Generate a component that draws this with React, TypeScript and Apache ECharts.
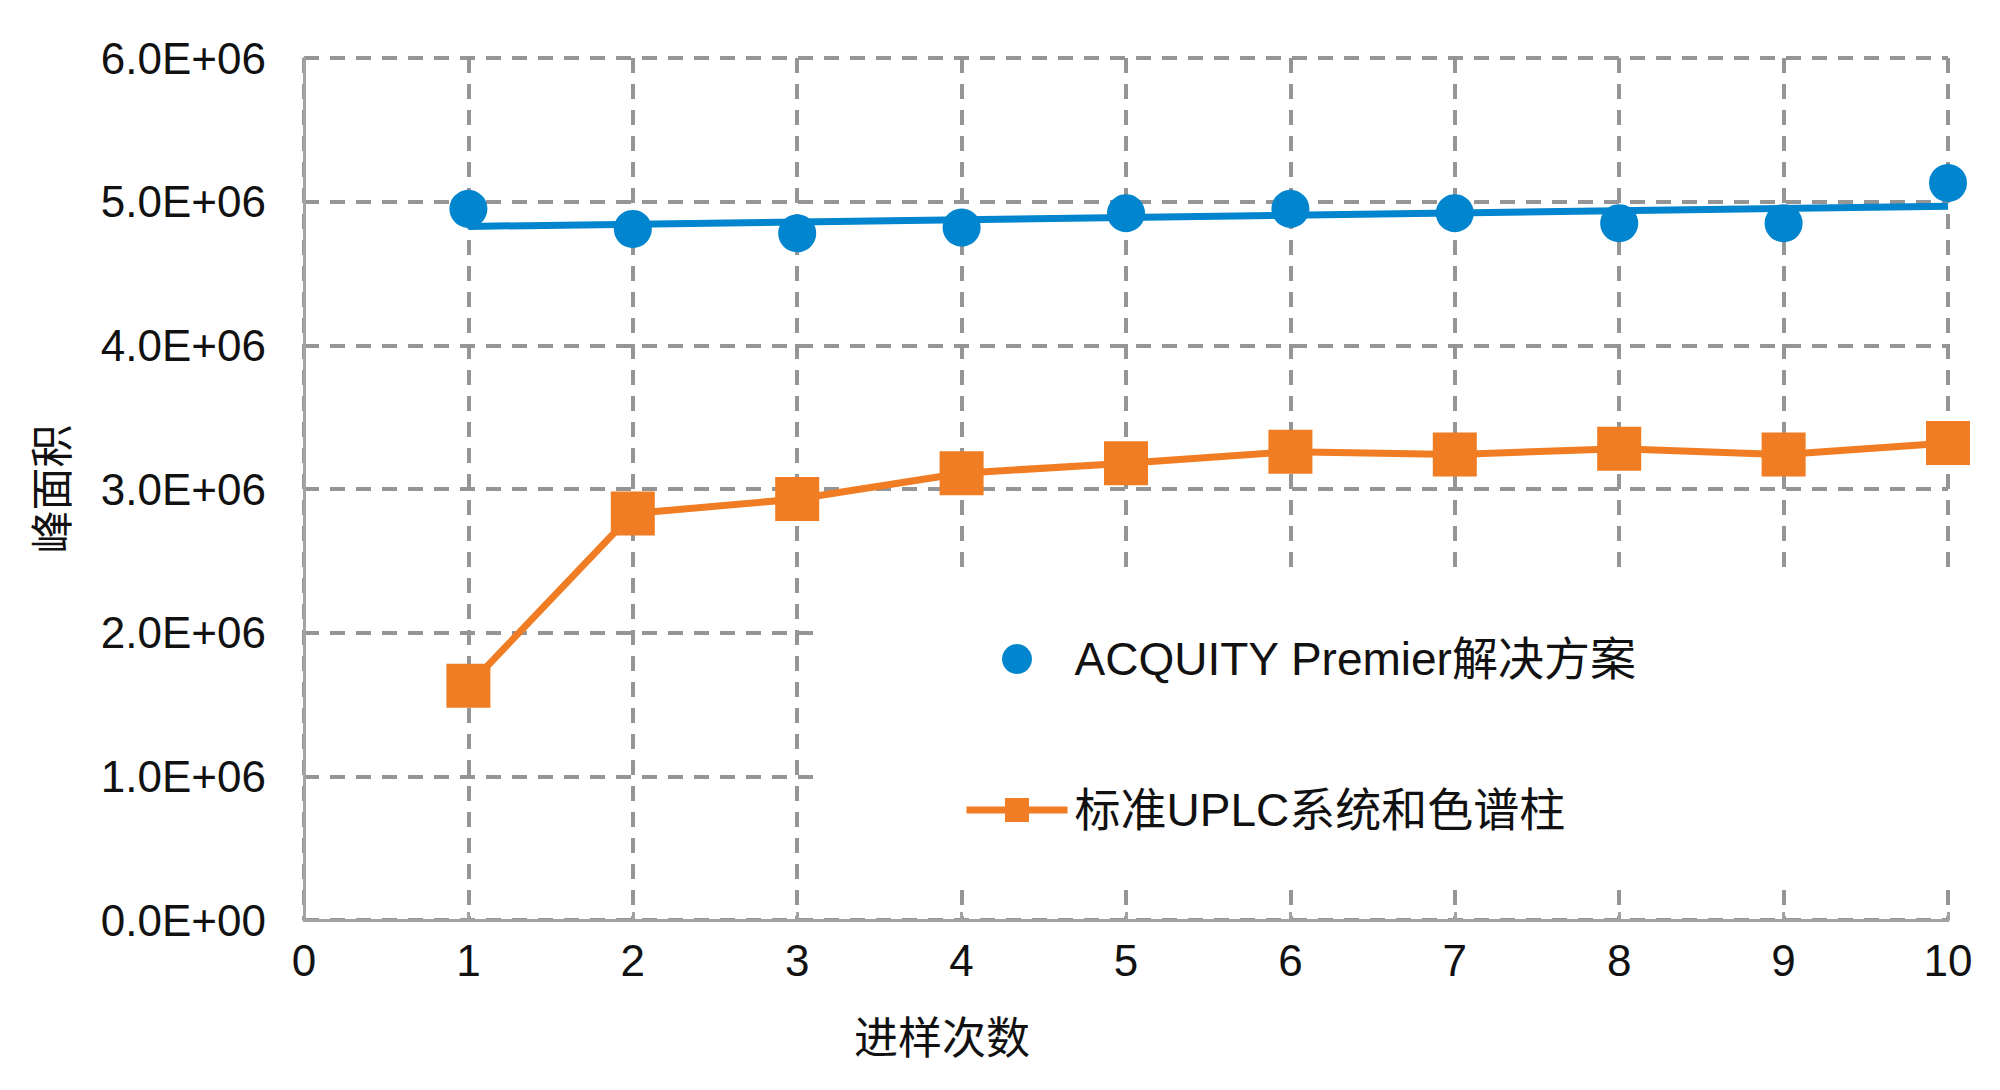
import React, { useEffect, useRef } from "react";
import * as echarts from "echarts";

const runs = [1, 2, 3, 4, 5, 6, 7, 8, 9, 10];
const acquityValues = [4.95e6, 4.81e6, 4.78e6, 4.82e6, 4.92e6, 4.95e6, 4.92e6, 4.85e6, 4.85e6, 5.13e6];
const standardValues = [1.63e6, 2.83e6, 2.93e6, 3.11e6, 3.18e6, 3.26e6, 3.24e6, 3.28e6, 3.24e6, 3.32e6];
const seriesNames = ["ACQUITY Premier解决方案", "标准UPLC系统和色谱柱"];
const xAxisTitle = "进样次数";
const yAxisTitle = "峰面积";

function linearFit(xs: number[], ys: number[]) {
  const n = xs.length;
  const mx = xs.reduce((a, b) => a + b, 0) / n;
  const my = ys.reduce((a, b) => a + b, 0) / n;
  let sxy = 0;
  let sxx = 0;
  for (let i = 0; i < n; i++) {
    sxy += (xs[i] - mx) * (ys[i] - my);
    sxx += (xs[i] - mx) * (xs[i] - mx);
  }
  const slope = sxy / sxx;
  const intercept = my - slope * mx;
  return (x: number) => intercept + slope * x;
}

const BLUE = "#0085CE";
const ORANGE = "#F07D23";
const GRID = "#959595";
const AXIS = "#A3A3A3";
const FONT = "'Liberation Sans', Arial, 'Noto Sans CJK SC', sans-serif";

export default function App() {
  const ref = useRef<HTMLDivElement>(null);
  useEffect(() => {
    if (!ref.current) return;
    const chart = echarts.init(ref.current, undefined, { renderer: "svg" });
    const fit = linearFit(runs, acquityValues);
    const first = runs[0];
    const last = runs[runs.length - 1];
    chart.setOption({
      animation: false,
      backgroundColor: "#ffffff",
      grid: { left: 304, right: 52, top: 58, bottom: 170, containLabel: false },
      legend: {
        orient: "vertical",
        left: 820,
        top: 578,
        padding: [58, 345, 54, 143],
        backgroundColor: "#ffffff",
        itemWidth: 101,
        itemHeight: 30,
        itemGap: 105,
        selectedMode: false,
        data: [
          { name: seriesNames[0], icon: "circle" },
          { name: seriesNames[1], lineStyle: { width: 7, color: ORANGE } },
        ],
        textStyle: {
          fontSize: 46,
          fontFamily: FONT,
          color: "#111111",
          padding: [0, 0, 0, 2],
        },
      },
      xAxis: {
        type: "value",
        min: 0,
        max: 10,
        interval: 1,
        name: xAxisTitle,
        nameLocation: "middle",
        nameGap: 93,
        nameTextStyle: {
          fontSize: 44,
          fontFamily: "'Noto Sans CJK SC', sans-serif",
          color: "#111111",
          padding: [0, 368, 0, 0],
        },
        axisLine: { show: true, lineStyle: { color: AXIS, width: 3 } },
        axisTick: { show: true, inside: true, length: 8, lineStyle: { color: AXIS, width: 3 } },
        axisLabel: { fontSize: 44, fontFamily: FONT, color: "#111111", margin: 18 },
        splitLine: { show: true, lineStyle: { color: GRID, width: 4, type: [15, 11] } },
      },
      yAxis: {
        type: "value",
        min: 0,
        max: 6e6,
        interval: 1e6,
        name: yAxisTitle,
        nameLocation: "middle",
        nameGap: 234,
        nameRotate: 90,
        nameTextStyle: {
          fontSize: 43,
          fontFamily: "'Noto Sans CJK SC', sans-serif",
          color: "#111111",
        },
        axisLine: { show: true, lineStyle: { color: AXIS, width: 3 } },
        axisTick: { show: false },
        axisLabel: {
          fontSize: 44,
          fontFamily: FONT,
          color: "#111111",
          margin: 38,
          formatter: (v: number) => (v === 0 ? "0.0E+00" : (v / 1e6).toFixed(1) + "E+06"),
        },
        splitLine: { show: true, lineStyle: { color: GRID, width: 4, type: [15, 11] } },
      },
      series: [
        {
          name: "trend",
          type: "line",
          data: [
            [first, fit(first)],
            [last, fit(last)],
          ],
          showSymbol: false,
          symbol: "none",
          lineStyle: { color: BLUE, width: 7 },
          z: 2,
          silent: true,
        },
        {
          name: seriesNames[0],
          type: "scatter",
          data: runs.map((r, i) => [r, acquityValues[i]]),
          symbol: "circle",
          symbolSize: 38,
          itemStyle: { color: BLUE, opacity: 1 },
          z: 3,
        },
        {
          name: seriesNames[1],
          type: "line",
          data: runs.map((r, i) => [r, standardValues[i]]),
          symbol: "rect",
          symbolSize: 44,
          showAllSymbol: true,
          itemStyle: { color: ORANGE },
          lineStyle: { color: ORANGE, width: 7 },
          z: 3,
        },
      ],
    });
    return () => chart.dispose();
  }, []);
  return (
    <div
      ref={ref}
      style={{ position: "fixed", left: 0, top: 0, width: "2000px", height: "1090px" }}
    />
  );
}
